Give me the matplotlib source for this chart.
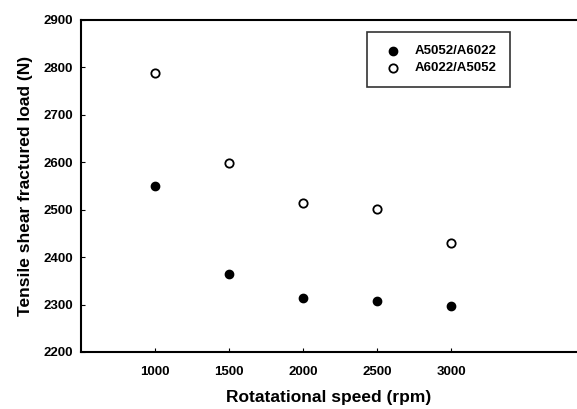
import matplotlib
matplotlib.use('Agg')
import matplotlib.pyplot as plt

speed = [1000, 1500, 2000, 2500, 3000]
load_a5052 = [2550, 2365, 2313, 2308, 2296]
load_a6022 = [2788, 2599, 2514, 2501, 2430]
xticks = [1000, 1500, 2000, 2500, 3000]
yticks = [2200, 2300, 2400, 2500, 2600, 2700, 2800, 2900]

plt.rcParams['font.family'] = ['Liberation Sans', 'DejaVu Sans']
plt.rcParams['font.weight'] = 'bold'

fig = plt.figure(figsize=(5.77, 4.09), dpi=100)
ax = fig.add_axes([81/577, 57/409, 496/577, 332/409])

ax.scatter(speed, load_a5052, s=36, c='black', edgecolors='black', label='A5052/A6022', zorder=3)
ax.scatter(speed, load_a6022, s=36, facecolors='white', edgecolors='black', linewidths=1.3,
           label='A6022/A5052', zorder=3)

ax.set_xlim(500, 3851)
ax.set_ylim(2200, 2900)
ax.set_xticks(xticks)
ax.set_yticks(yticks)
ax.tick_params(direction='in', length=3, labelsize=9.5, pad=10)
ax.tick_params(axis='y', pad=6)
for lab in ax.get_xticklabels() + ax.get_yticklabels():
    lab.set_fontweight('bold')
ax.spines['right'].set_visible(False)
for s in ['left', 'bottom', 'top']:
    ax.spines[s].set_linewidth(1.5)

ax.set_xlabel('Rotatational speed (rpm)', fontsize=12.5, fontweight='bold', labelpad=9)
ax.set_ylabel('Tensile shear fractured load (N)', fontsize=12.5, fontweight='bold', labelpad=7)

leg = ax.legend(loc='upper left', bbox_to_anchor=(286/496, 1 - 12/332), frameon=True,
                fancybox=False, edgecolor='black', fontsize=9.5, borderpad=1.0,
                borderaxespad=0, handletextpad=0.6, labelspacing=0.35)
leg.get_frame().set_linewidth(1.2)
for t in leg.get_texts():
    t.set_fontweight('bold')

fig.savefig('out.png', dpi=100)
